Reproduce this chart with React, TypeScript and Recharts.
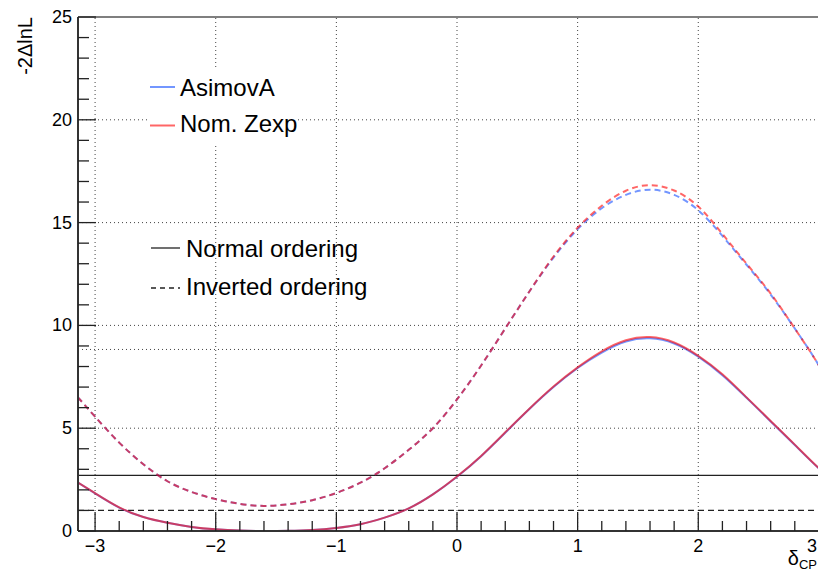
import React from 'react';
import { LineChart, Line, XAxis, YAxis, ReferenceLine, Legend } from 'recharts';

// ---- data ----
const deltaCP = [-3.1416, -3.0, -2.8, -2.6, -2.4, -2.2, -2.0, -1.8, -1.6, -1.4, -1.2, -1.0, -0.8, -0.6, -0.4, -0.2, 0.0, 0.2, 0.4, 0.6, 0.8, 1.0, 1.2, 1.4, 1.6, 1.8, 2.0, 2.2, 2.4, 2.6, 2.8, 3.0, 3.1416];

const asimovNormal = [2.35, 1.83, 1.14, 0.68, 0.4, 0.2, 0.08, 0.02, 0.0, 0.01, 0.05, 0.15, 0.33, 0.65, 1.1, 1.78, 2.64, 3.64, 4.78, 5.93, 7.0, 7.93, 8.68, 9.22, 9.37, 9.12, 8.48, 7.58, 6.48, 5.33, 4.18, 3.04, 2.35];
const zexpNormal = [2.36, 1.84, 1.15, 0.68, 0.4, 0.2, 0.08, 0.02, 0.0, 0.01, 0.05, 0.15, 0.33, 0.65, 1.1, 1.78, 2.65, 3.65, 4.8, 5.95, 7.03, 7.96, 8.74, 9.28, 9.43, 9.17, 8.52, 7.62, 6.5, 5.35, 4.2, 3.05, 2.36];
const asimovInverted = [6.5, 5.56, 4.3, 3.25, 2.42, 1.9, 1.55, 1.32, 1.22, 1.3, 1.5, 1.85, 2.35, 3.05, 3.95, 5.0, 6.4, 8.05, 9.85, 11.65, 13.3, 14.68, 15.7, 16.35, 16.6, 16.35, 15.6, 14.35, 12.95, 11.5, 9.85, 8.05, 6.5];
const zexpInverted = [6.5, 5.56, 4.3, 3.25, 2.42, 1.9, 1.55, 1.32, 1.22, 1.3, 1.5, 1.85, 2.35, 3.05, 3.95, 5.0, 6.4, 8.05, 9.85, 11.65, 13.35, 14.75, 15.82, 16.55, 16.82, 16.56, 15.78, 14.45, 13.0, 11.55, 9.85, 8.05, 6.5];

const thresholdSolid = 2.71;
const thresholdDashed = 1.0;
const extraGridY = 8.83;

const xMajorTicks = [-3, -2, -1, 0, 1, 2, 3];
const xMajorLabels = ['\u22123', '\u22122', '\u22121', '0', '1', '2', '3'];
const yMajorTicks = [0, 5, 10, 15, 20, 25];
const yMajorLabels = ['0', '5', '10', '15', '20', '25'];
const xGridLines = [-3, -2, -1, 0, 1, 2, 3];
const yGridLines = [5, 10, 15, 20];

const xTicks: number[] = [];
for (let i = -15; i <= 15; i++) xTicks.push(Math.round(i * 0.2 * 10) / 10);
const yTicks: number[] = [];
for (let i = 0; i <= 25; i++) yTicks.push(i);

const rows = deltaCP.map((x, i) => ({
  x,
  asimovNO: asimovNormal[i],
  zexpNO: zexpNormal[i],
  asimovIO: asimovInverted[i],
  zexpIO: zexpInverted[i],
}));

const FONT = '"Liberation Sans", Arial, Helvetica, sans-serif';
const BLUE = '#0040ff';
const RED = '#ff0000';
const BLUE_OP = 0.55;
const RED_OP = 0.6;
const DASH = '6 4';
const VISIBLE_RIGHT = 817;

const legendSeries = [
  { name: 'AsimovA', color: BLUE, op: BLUE_OP },
  { name: 'Nom. Zexp', color: RED, op: RED_OP },
];
const legendOrdering = [
  { name: 'Normal ordering', dash: undefined as string | undefined },
  { name: 'Inverted ordering', dash: '5 4' },
];

const XTick = (props: any) => {
  const { x, y, payload } = props;
  const v = payload.value as number;
  const idx = xMajorTicks.findIndex((t) => Math.abs(t - v) < 1e-6);
  const major = idx >= 0;
  const tooFar = x + 6 > VISIBLE_RIGHT;
  return (
    <g>
      <line x1={x} x2={x} y1={y} y2={y - (major ? 19 : 10)} stroke="#222" strokeWidth={1.3} />
      {major && (
        <text
          x={tooFar ? VISIBLE_RIGHT : x}
          y={y + 21}
          textAnchor={tooFar ? 'end' : 'middle'}
          fontSize={18}
          fontFamily={FONT}
          fill="#000"
        >
          {xMajorLabels[idx]}
        </text>
      )}
    </g>
  );
};

const YTick = (props: any) => {
  const { x, y, payload } = props;
  const v = payload.value as number;
  const idx = yMajorTicks.findIndex((t) => Math.abs(t - v) < 1e-6);
  const major = idx >= 0;
  return (
    <g>
      <line x1={x} x2={x + (major ? 18 : 11)} y1={y} y2={y} stroke="#222" strokeWidth={1.3} />
      {major && (
        <text x={x - 6} y={y} dominantBaseline="central" textAnchor="end" fontSize={18} fontFamily={FONT} fill="#000">
          {yMajorLabels[idx]}
        </text>
      )}
    </g>
  );
};

const YTitle = (props: any) => {
  const vb = props.viewBox || { x: 0, y: 17 };
  const tx = vb.x + 32;
  const ty = vb.y;
  return (
    <text x={tx} y={ty} transform={`rotate(-90 ${tx} ${ty})`} textAnchor="end" fontSize={20} fontFamily={FONT} fill="#000">
      -2ΔlnL
    </text>
  );
};

const XTitle = (props: any) => {
  const vb = props.viewBox || { x: 78, y: 531, width: 758 };
  const tx = Math.min(vb.x + vb.width, VISIBLE_RIGHT);
  return (
    <text x={tx} y={565} textAnchor="end" fontSize={20} fontFamily={FONT} fill="#000">
      δ<tspan dy={4} fontSize={13}>CP</tspan>
    </text>
  );
};

const LegendBoxes = () => (
  <svg width={846} height={578} style={{ position: 'absolute', left: 0, top: 0 }}>
    <rect x={147} y={67} width={151} height={79} fill="#fff" />
    {legendSeries.map((s, i) => (
      <g key={s.name}>
        <line x1={150} x2={175} y1={87 + i * 38.5} y2={87 + i * 38.5} stroke={s.color} strokeOpacity={s.op} strokeWidth={2} />
        <text x={180} y={95.7 + i * 36} fontSize={24} fontFamily={FONT} fill="#000">{s.name}</text>
      </g>
    ))}
    {legendOrdering.map((s, i) => (
      <g key={s.name}>
        <line x1={151} x2={180} y1={248 + i * 40} y2={248 + i * 40} stroke="#222" strokeWidth={1.3} strokeDasharray={s.dash} />
        <text x={186} y={256.7 + i * 38.5} fontSize={24} fontFamily={FONT} fill="#000">{s.name}</text>
      </g>
    ))}
  </svg>
);

export default function App() {
  return (
    <div style={{ margin: -8, width: 826, height: 578, overflow: 'hidden', position: 'relative', background: '#fff' }}>
      <LineChart width={846} height={578} data={rows} margin={{ top: 17, right: 10, bottom: 0, left: 0 }}>
        <XAxis
          type="number"
          dataKey="x"
          domain={[-Math.PI, Math.PI]}
          allowDataOverflow
          ticks={xTicks}
          interval={0}
          tickSize={0}
          tickMargin={0}
          tickLine={false}
          tick={(p: any) => <XTick {...p} />}
          height={47}
          axisLine={{ stroke: '#333', strokeWidth: 2 }}
          label={<XTitle />}
        />
        <YAxis
          type="number"
          domain={[0, 25]}
          allowDataOverflow
          ticks={yTicks}
          interval={0}
          tickSize={0}
          tickMargin={0}
          tickLine={false}
          tick={(p: any) => <YTick {...p} />}
          width={78}
          axisLine={{ stroke: '#333', strokeWidth: 2 }}
          label={<YTitle />}
        />
        {xGridLines.map((v) => (
          <ReferenceLine key={'gx' + v} x={v} stroke="#444" strokeWidth={1} strokeDasharray="1 3" />
        ))}
        {yGridLines.map((v) => (
          <ReferenceLine key={'gy' + v} y={v} stroke="#444" strokeWidth={1} strokeDasharray="1 3" />
        ))}
        <ReferenceLine y={extraGridY} stroke="#444" strokeWidth={1} strokeDasharray="1 3" />
        <ReferenceLine y={25} stroke="#555" strokeWidth={1.5} />
        <ReferenceLine y={thresholdSolid} stroke="#222" strokeWidth={1.3} />
        <ReferenceLine y={thresholdDashed} stroke="#222" strokeWidth={1.3} strokeDasharray="6 4" />
        <Line type="natural" dataKey="asimovIO" stroke={BLUE} strokeOpacity={BLUE_OP} strokeWidth={2} strokeDasharray={DASH} dot={false} isAnimationActive={false} />
        <Line type="natural" dataKey="zexpIO" stroke={RED} strokeOpacity={RED_OP} strokeWidth={2} strokeDasharray={DASH} dot={false} isAnimationActive={false} />
        <Line type="natural" dataKey="asimovNO" stroke={BLUE} strokeOpacity={BLUE_OP} strokeWidth={2} dot={false} isAnimationActive={false} />
        <Line type="natural" dataKey="zexpNO" stroke={RED} strokeOpacity={RED_OP} strokeWidth={2} dot={false} isAnimationActive={false} />
        <Legend
          layout="vertical"
          align="center"
          verticalAlign="middle"
          wrapperStyle={{ left: 0, top: 0, width: 846, height: 578, pointerEvents: 'none' }}
          content={() => <LegendBoxes />}
        />
      </LineChart>
    </div>
  );
}
